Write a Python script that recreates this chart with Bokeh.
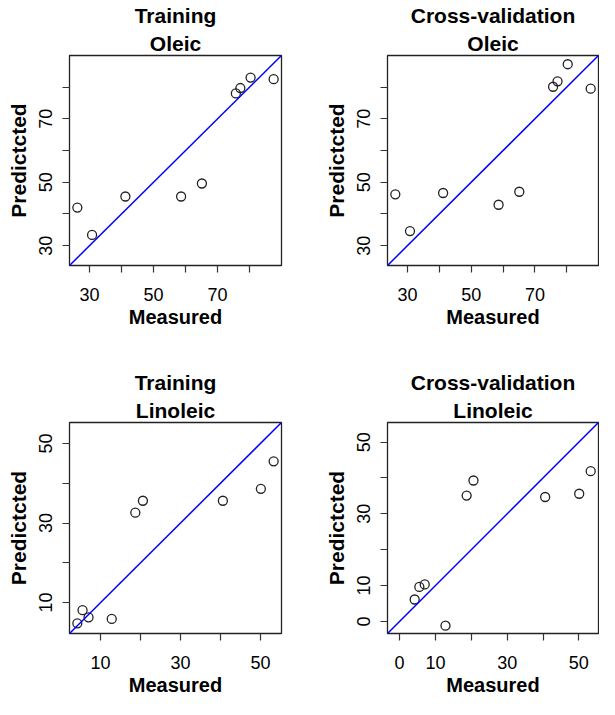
from bokeh.plotting import figure
from bokeh.models import Range1d, FixedTicker, Slope, Title
from bokeh.layouts import column, row
from bokeh.embed import file_html
from bokeh.resources import INLINE

# ---- data ----
oleic_measured = [26.2, 30.8, 41.2, 58.6, 65.1, 75.7, 77.1, 80.3, 87.5]
oleic_pred_train = [42.0, 33.4, 45.5, 45.5, 49.6, 78.0, 79.7, 83.0, 82.5]
oleic_pred_cv = [46.2, 34.6, 46.6, 42.9, 47.0, 80.1, 81.8, 87.2, 79.5]

linoleic_measured = [4.2, 5.5, 7.0, 12.8, 18.7, 20.6, 40.6, 50.1, 53.3]
linoleic_pred_train = [4.8, 8.1, 6.3, 5.9, 32.6, 35.6, 35.6, 38.6, 45.5]
linoleic_pred_cv = [6.1, 9.6, 10.3, -1.2, 35.1, 39.3, 34.7, 35.6, 41.9]

oleic_ticks = [30, 40, 50, 60, 70, 80]
oleic_tick_labels = ["30", "", "50", "", "70", ""]
lin_train_ticks = [10, 20, 30, 40, 50]
lin_train_tick_labels = ["10", "", "30", "", "50"]
lin_cv_ticks = [0, 10, 20, 30, 40, 50]
lin_cv_tick_labels = ["0", "10", "", "30", "", "50"]

FONT = "Liberation Sans"
INK = "#222222"


def panel(line1, line2, meas, pred, ticks, tick_labels, width, height, borders):
    lo = min(min(meas), min(pred))
    hi = max(max(meas), max(pred))
    ext = (hi - lo) * 0.04
    p = figure(width=width, height=height, output_backend="svg", toolbar_location=None,
               x_range=Range1d(lo - ext, hi + ext), y_range=Range1d(lo - ext, hi + ext),
               min_border_left=borders[0], min_border_right=borders[1],
               min_border_top=borders[2], min_border_bottom=borders[3])
    p.title = None
    p.add_layout(Title(text=line2, align="center", text_font=FONT, text_font_size="21px",
                       text_font_style="bold", text_color="black", standoff=2), "above")
    p.add_layout(Title(text=line1, align="center", text_font=FONT, text_font_size="21px",
                       text_font_style="bold", text_color="black", standoff=3), "above")
    p.xgrid.visible = False
    p.ygrid.visible = False
    p.outline_line_color = INK
    p.outline_line_width = 1.3
    p.outline_line_alpha = 1.0
    overrides = {t: l for t, l in zip(ticks, tick_labels)}
    for ax, lab, fs in ((p.xaxis[0], "Measured", "20px"), (p.yaxis[0], "Predictcted", "21px")):
        ax.ticker = FixedTicker(ticks=ticks)
        ax.major_label_overrides = overrides
        ax.axis_line_color = None
        ax.major_tick_line_color = "#333333"
        ax.major_tick_line_width = 1.2
        ax.major_tick_out = 7
        ax.major_tick_in = 0
        ax.minor_tick_line_color = None
        ax.major_label_text_font = FONT
        ax.major_label_text_font_size = "18px"
        ax.major_label_text_color = "black"
        ax.axis_label = lab
        ax.axis_label_text_font = FONT
        ax.axis_label_text_font_size = fs
        ax.axis_label_text_font_style = "bold"
        ax.axis_label_text_color = "black"
    p.xaxis[0].major_label_standoff = 15
    p.xaxis[0].axis_label_standoff = 2
    p.yaxis[0].major_label_standoff = 10
    p.yaxis[0].axis_label_standoff = 7
    p.yaxis[0].major_label_orientation = "vertical"
    p.add_layout(Slope(gradient=1, y_intercept=0, line_color="blue", line_width=1.5))
    p.scatter(meas, pred, size=9, fill_color=None, line_color=INK, line_width=1.3)
    return p


f1 = panel("Training", "Oleic", oleic_measured, oleic_pred_train,
           oleic_ticks, oleic_tick_labels, 298, 345, (69, 17, 54, 80))
f2 = panel("Cross-validation", "Oleic", oleic_measured, oleic_pred_cv,
           oleic_ticks, oleic_tick_labels, 301, 345, (89, 1, 54, 80))
f3 = panel("Training", "Linoleic", linoleic_measured, linoleic_pred_train,
           lin_train_ticks, lin_train_tick_labels, 298, 354, (69, 17, 77, 66))
f4 = panel("Cross-validation", "Linoleic", linoleic_measured, linoleic_pred_cv,
           lin_cv_ticks, lin_cv_tick_labels, 301, 354, (89, 1, 77, 66))

layout = column(row(f1, f2), row(f3, f4))
open("out.html", "w").write(file_html(layout, INLINE))
